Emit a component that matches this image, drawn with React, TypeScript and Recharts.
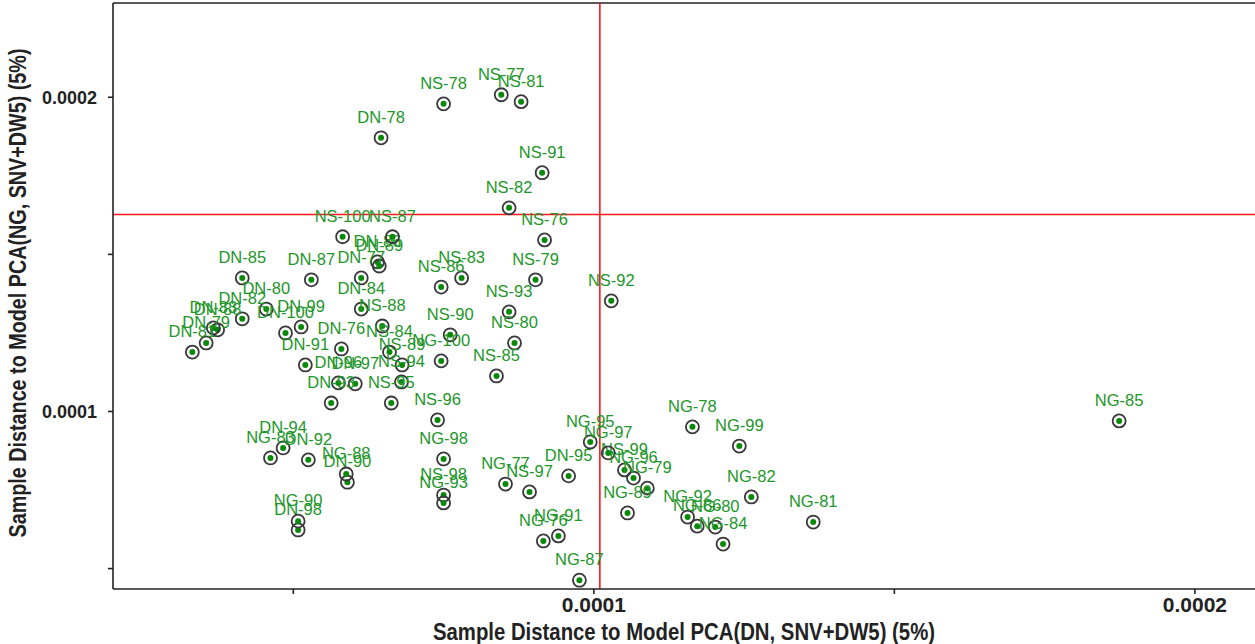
import { ReferenceLine, Scatter, ScatterChart, XAxis, YAxis } from "recharts";

// DN samples
const dnLabels = [
  "DN-78", "DN-86", "DN-89", "DN-85", "DN-87", "DN-77", "DN-80", "DN-84", "DN-82",
  "DN-99", "DN-100", "DN-88", "DN-83", "DN-79", "DN-81", "DN-76", "DN-91", "DN-96",
  "DN-97", "DN-93", "DN-94", "DN-92", "DN-90", "DN-98", "DN-95",
];
const dnX = [
  6.46e-5, 6.4e-5, 6.43e-5, 4.15e-5, 5.3e-5, 6.13e-5, 4.55e-5, 6.13e-5, 4.15e-5,
  5.13e-5, 4.87e-5, 3.74e-5, 3.67e-5, 3.55e-5, 3.32e-5, 5.8e-5, 5.2e-5, 5.75e-5,
  6.03e-5, 5.63e-5, 4.83e-5, 5.25e-5, 5.9e-5, 5.08e-5, 9.58e-5,
];
const dnY = [
  1.871e-4, 1.476e-4, 1.463e-4, 1.425e-4, 1.419e-4, 1.425e-4, 1.326e-4, 1.326e-4, 1.295e-4,
  1.269e-4, 1.25e-4, 1.26e-4, 1.266e-4, 1.218e-4, 1.189e-4, 1.199e-4, 1.148e-4, 1.091e-4,
  1.088e-4, 1.027e-4, 8.84e-5, 8.46e-5, 7.75e-5, 6.23e-5, 7.95e-5,
];

// NS samples
const nsLabels = [
  "NS-78", "NS-77", "NS-81", "NS-91", "NS-82", "NS-76", "NS-100", "NS-87", "NS-83",
  "NS-86", "NS-79", "NS-92", "NS-93", "NS-88", "NS-90", "NS-80", "NS-84", "NS-89",
  "NS-85", "NS-94", "NS-95", "NS-96", "NS-98", "NS-97", "NS-99",
];
const nsX = [
  7.5e-5, 8.46e-5, 8.79e-5, 9.14e-5, 8.59e-5, 9.18e-5, 5.82e-5, 6.65e-5, 7.8e-5,
  7.46e-5, 9.03e-5, 1.029e-4, 8.59e-5, 6.48e-5, 7.61e-5, 8.68e-5, 6.6e-5, 6.81e-5,
  8.38e-5, 6.8e-5, 6.63e-5, 7.4e-5, 7.5e-5, 8.93e-5, 1.051e-4,
];
const nsY = [
  1.979e-4, 2.008e-4, 1.986e-4, 1.76e-4, 1.648e-4, 1.546e-4, 1.556e-4, 1.556e-4, 1.425e-4,
  1.396e-4, 1.419e-4, 1.352e-4, 1.317e-4, 1.272e-4, 1.244e-4, 1.218e-4, 1.189e-4, 1.148e-4,
  1.113e-4, 1.094e-4, 1.027e-4, 9.73e-5, 7.34e-5, 7.44e-5, 8.14e-5,
];

// NG samples
const ngLabels = [
  "NG-100", "NG-83", "NG-88", "NG-90", "NG-98", "NG-93", "NG-77", "NG-95", "NG-97",
  "NG-96", "NG-79", "NG-89", "NG-91", "NG-76", "NG-87", "NG-78", "NG-99", "NG-82",
  "NG-81", "NG-92", "NG-86", "NG-80", "NG-84", "NG-85",
];
const ngX = [
  7.46e-5, 4.62e-5, 5.88e-5, 5.08e-5, 7.5e-5, 7.5e-5, 8.53e-5, 9.94e-5, 1.024e-4,
  1.066e-4, 1.089e-4, 1.056e-4, 9.41e-5, 9.16e-5, 9.76e-5, 1.164e-4, 1.242e-4, 1.262e-4,
  1.365e-4, 1.156e-4, 1.172e-4, 1.202e-4, 1.215e-4, 1.874e-4,
];
const ngY = [
  1.161e-4, 8.52e-5, 8.01e-5, 6.51e-5, 8.49e-5, 7.09e-5, 7.69e-5, 9.03e-5, 8.68e-5,
  7.88e-5, 7.56e-5, 6.77e-5, 6.04e-5, 5.88e-5, 4.63e-5, 9.51e-5, 8.9e-5, 7.28e-5,
  6.48e-5, 6.64e-5, 6.35e-5, 6.32e-5, 5.78e-5, 9.7e-5,
];

const xDomain = [0.00002, 0.00021];
const yDomain = [0.0000435, 0.00023];
const xTicks = [0.00005, 0.0001, 0.00015, 0.0002];
const yTicks = [0.00005, 0.0001, 0.00015, 0.0002];
const labelledTicks = [0.0001, 0.0002];

// critical limits for the two distance models
const xLimit = 0.000101;
const yLimit = 0.0001627;

const xTitle = "Sample Distance to Model PCA(DN, SNV+DW5) (5%)";
const yTitle = "Sample Distance to Model PCA(NG, SNV+DW5) (5%)";

type Row = { name: string; x: number; y: number };

const toRows = (labels: string[], xs: number[], ys: number[]): Row[] =>
  labels.map((name, i) => ({ name, x: xs[i], y: ys[i] }));

const samples = [
  ...toRows(dnLabels, dnX, dnY),
  ...toRows(nsLabels, nsX, nsY),
  ...toRows(ngLabels, ngX, ngY),
];

const fmtTick = (v: number) => (labelledTicks.includes(v) ? v.toFixed(4) : "");

const sans = "'Liberation Sans', Arial, sans-serif";

function Marker(props: any) {
  const { cx, cy, payload } = props;
  if (cx == null || cy == null) return null;
  return (
    <g>
      <circle cx={cx} cy={cy} r={6.5} fill="none" stroke="#383838" strokeWidth={1.8} />
      <circle cx={cx} cy={cy} r={3} fill="#0a880a" />
      <text x={cx} y={cy - 15} textAnchor="middle" fontSize={16.5} fontFamily={sans} fill="#22962a">
        {payload.name}
      </text>
    </g>
  );
}

// condensed bold titles: squeeze the glyphs to the measured title length
const titleStyle = {
  fontFamily: sans,
  fontWeight: 700,
  fontSize: 23,
  fill: "#222",
  lengthAdjust: "spacingAndGlyphs" as const,
};

export default function App() {
  return (
    <div style={{ position: "absolute", left: 0, top: 0, background: "#fff" }}>
      <ScatterChart width={1255} height={644} margin={{ top: 3, right: 0, bottom: 0, left: 0 }}>
        <XAxis
          type="number"
          dataKey="x"
          domain={xDomain}
          ticks={xTicks}
          tickFormatter={fmtTick}
          allowDataOverflow
          height={55}
          stroke="#222"
          strokeWidth={1.6}
          tickSize={5}
          tickMargin={3}
          tick={{ fontFamily: sans, fontWeight: 700, fontSize: 21, fill: "#222" }}
          label={({ viewBox }: any) => (
            <text
              x={viewBox.x + viewBox.width / 2}
              y={viewBox.y + viewBox.height - 4}
              textAnchor="middle"
              textLength={502}
              {...titleStyle}
            >
              {xTitle}
            </text>
          )}
        />
        <YAxis
          type="number"
          dataKey="y"
          domain={yDomain}
          ticks={yTicks}
          tickFormatter={fmtTick}
          allowDataOverflow
          width={113}
          stroke="#222"
          strokeWidth={1.6}
          tickSize={5}
          tickMargin={11}
          tick={{ fontFamily: sans, fontWeight: 700, fontSize: 18, fill: "#222" }}
          label={({ viewBox }: any) => {
            const cy = viewBox.y + viewBox.height / 2 - 3;
            return (
              <text
                x={26}
                y={cy}
                transform={`rotate(-90 26 ${cy})`}
                textAnchor="middle"
                textLength={489}
                {...titleStyle}
              >
                {yTitle}
              </text>
            );
          }}
        />
        <ReferenceLine y={yDomain[1]} stroke="#222" strokeWidth={1.6} />
        <ReferenceLine x={xLimit} stroke="#ff1a1a" strokeWidth={1.6} />
        <ReferenceLine y={yLimit} stroke="#ff1a1a" strokeWidth={1.6} />
        <Scatter data={samples} shape={Marker} isAnimationActive={false} />
      </ScatterChart>
    </div>
  );
}
